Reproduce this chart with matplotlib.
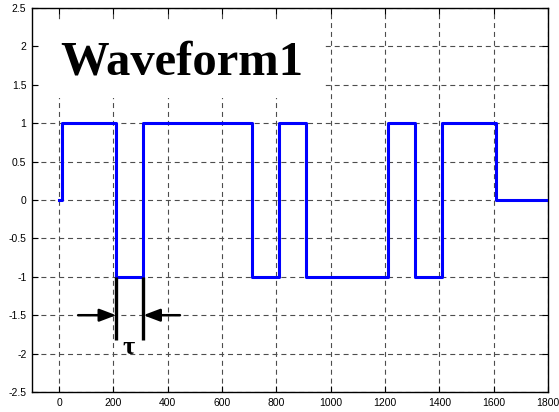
import matplotlib.pyplot as plt
from matplotlib.patches import Rectangle

# waveform data (switching instants and levels)
tiempos = [0, 10, 210, 310, 710, 810, 910, 1210, 1310, 1410, 1610, 1800]
niveles = [0, 1, -1, 1, -1, 1, -1, 1, -1, 1, 0, 0]

xticks = [0, 200, 400, 600, 800, 1000, 1200, 1400, 1600, 1800]
yticks = [-2.5, -2, -1.5, -1, -0.5, 0, 0.5, 1, 1.5, 2, 2.5]
ytick_labels = ['-2.5', '-2', '-1.5', '-1', '-0.5', '0', '0.5', '1', '1.5', '2', '2.5']

# tau marker
tau_ini, tau_fin = 210, 310

fig = plt.figure(figsize=(5.59, 4.12), dpi=100)
ax = fig.add_axes([0.0572, 0.0485, 0.9231, 0.9321])

ax.plot(tiempos, niveles, drawstyle='steps-post', color='#0000ff', lw=2.2, zorder=4)

ax.set_xlim(-100, 1800)
ax.set_ylim(-2.5, 2.5)
ax.set_xticks(xticks)
ax.set_yticks(yticks)
ax.set_yticklabels(ytick_labels)
ax.tick_params(direction='in', length=4, width=0.8, top=True, right=True,
               labelsize=7.5, pad=4)
for lbl in ax.get_xticklabels() + ax.get_yticklabels():
    lbl.set_family('Liberation Sans')
ax.grid(True, color='0.3', lw=0.8, linestyle=(0, (4.5, 3.5)))
for s in ax.spines.values():
    s.set_linewidth(1.0)

# white area behind the title
ax.add_patch(Rectangle((-75, 1.33), 1043, 0.99, facecolor='white',
                       edgecolor='none', zorder=3))
ax.text(3, 1.64, 'Waveform1', family='Liberation Serif', fontweight='bold',
        fontsize=35, ha='left', va='baseline', zorder=5)

# tau annotation
for xv in (tau_ini, tau_fin):
    ax.plot([xv, xv], [-1, -1.82], color='black', lw=2.4, zorder=5,
            solid_capstyle='butt')
ax.annotate('', xy=(tau_ini, -1.5), xytext=(70, -1.5), zorder=5,
            arrowprops=dict(arrowstyle='-|>,head_length=1.0,head_width=0.38',
                            color='black', lw=1.8, shrinkA=0, shrinkB=0))
ax.annotate('', xy=(tau_fin, -1.5), xytext=(445, -1.5), zorder=5,
            arrowprops=dict(arrowstyle='-|>,head_length=1.0,head_width=0.38',
                            color='black', lw=1.8, shrinkA=0, shrinkB=0))
ax.text(255, -1.92, 'τ', family='Liberation Serif', fontweight='bold',
        fontsize=19, ha='center', va='center', zorder=5)

fig.savefig('out.png', dpi=100)
